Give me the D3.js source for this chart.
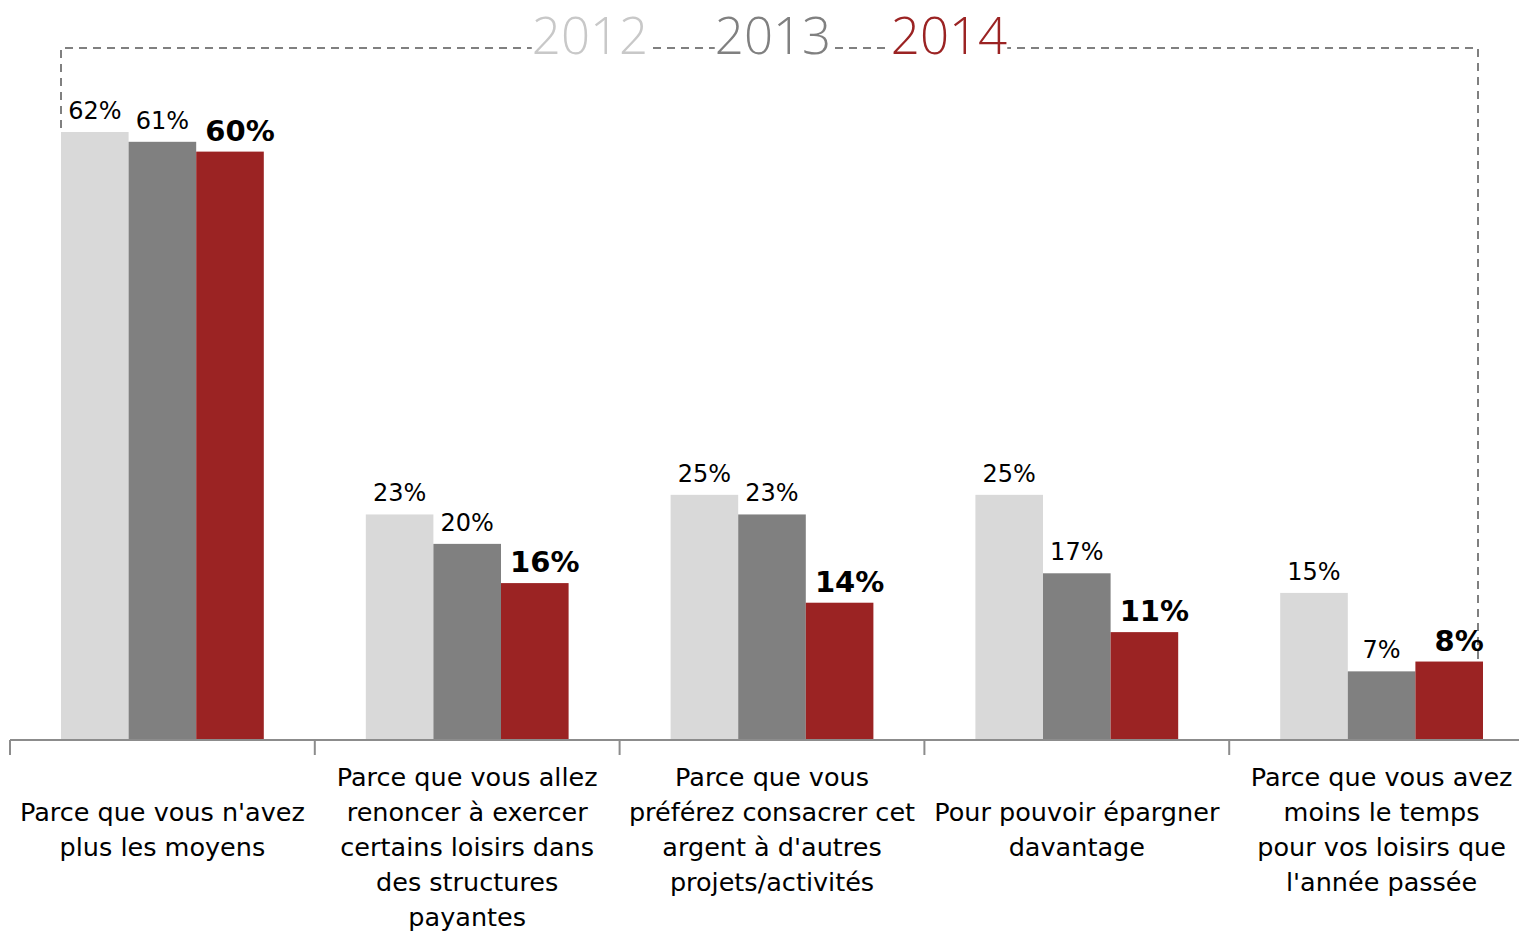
<!DOCTYPE html>
<html><head><meta charset="utf-8">
<script src="https://cdn.jsdelivr.net/npm/d3@7"></script>
<style>
html,body{margin:0;padding:0;background:#fff;overflow:hidden}
svg{display:block}
</style></head>
<body>
<svg id="chart" width="1519" height="932"></svg>
<script>
const categories = [
  ["Parce que vous n'avez", "plus les moyens"],
  ["Parce que vous allez", "renoncer à exercer", "certains loisirs dans", "des structures", "payantes"],
  ["Parce que vous", "préférez consacrer cet", "argent à d'autres", "projets/activités"],
  ["Pour pouvoir épargner", "davantage"],
  ["Parce que vous avez", "moins le temps", "pour vos loisirs que", "l'année passée"]
];
const seriesNames = ["2012", "2013", "2014"];
const values2012 = [62, 23, 25, 25, 15];
const values2013 = [61, 20, 23, 17, 7];
const values2014 = [60, 16, 14, 11, 8];
const barColors = ["#D9D9D9", "#808080", "#9B2323"];
const legendColors = ["#C8C8C8", "#808080", "#9B2323"];

const allValues = [values2012, values2013, values2014];
const svg = d3.select("#chart");
const catIdx = d3.range(categories.length);

const x0 = d3.scaleBand().domain(catIdx).range([10, 1534]).padding(0);
const x1 = d3.scaleBand().domain(seriesNames).range([51, x0.bandwidth() - 51]).padding(0);
const y = d3.scaleLinear().domain([0, 62]).range([740, 132]);

// dashed bracket box
const leftX = x0(0) + x1("2012");
const rightX = x0(4) + x1("2014") + x1.bandwidth() - 5;
const topY = 48;
svg.append("path")
  .attr("d", `M${leftX},${y(values2012[0]) - 4}V${topY}H${rightX}V${y(values2014[4]) - 2}`)
  .attr("fill", "none").attr("stroke", "#808080").attr("stroke-width", 2)
  .attr("stroke-dasharray", "8,6");

// legend
const legendCenters = [590, 773, 949];
seriesNames.forEach((s, i) => {
  const g = svg.append("g");
  const t = g.append("text")
    .attr("x", legendCenters[i]).attr("y", 54)
    .attr("text-anchor", "middle")
    .attr("font-family", "'Open Sans', sans-serif")
    .attr("font-weight", 300)
    .attr("font-size", 51)
    .attr("fill", legendColors[i])
    .text(s);
  const bb = t.node().getBBox();
  g.insert("rect", "text").attr("x", bb.x).attr("y", bb.y).attr("width", bb.width).attr("height", bb.height).attr("fill", "#fff");
});

// bars
const groups = svg.selectAll("g.cat").data(catIdx).join("g")
  .attr("class", "cat").attr("transform", d => `translate(${x0(d)},0)`);
groups.selectAll("rect").data(c => seriesNames.map((s, i) => ({s, i, v: allValues[i][c]}))).join("rect")
  .attr("x", d => x1(d.s)).attr("width", x1.bandwidth())
  .attr("y", d => y(d.v)).attr("height", d => y(0) - y(d.v))
  .attr("fill", d => barColors[d.i]);

// value labels
groups.selectAll("text.val").data(c => seriesNames.map((s, i) => ({s, i, v: allValues[i][c]}))).join("text")
  .attr("class", "val")
  .attr("x", d => x1(d.s) + x1.bandwidth() / 2 + (d.i === 2 ? 10 : 0))
  .attr("y", d => y(d.v) - (d.i === 2 ? 11 : 13))
  .attr("text-anchor", "middle")
  .attr("font-family", "'DejaVu Sans', sans-serif")
  .attr("font-size", d => d.i === 2 ? 29 : 24)
  .attr("font-weight", d => d.i === 2 ? "bold" : "normal")
  .attr("fill", "#000")
  .text(d => d.v + "%");

// axis
const axis = d3.axisBottom(x0).tickSize(0).tickFormat("");
const axG = svg.append("g").attr("transform", `translate(0,${y(0)})`).call(axis);
axG.select(".domain").attr("stroke", "#8c8c8c").attr("stroke-width", 2).attr("d", `M10,0H1519`);
svg.append("g").selectAll("line").data(catIdx).join("line")
  .attr("x1", d => x0(d)).attr("x2", d => x0(d))
  .attr("y1", y(0)).attr("y2", y(0) + 15)
  .attr("stroke", "#8c8c8c").attr("stroke-width", 2);

// category labels
categories.forEach((lines, c) => {
  const n = lines.length;
  const startC = Math.max(777, 829.5 - (n - 1) * 17.5);
  const t = svg.append("text")
    .attr("text-anchor", "middle")
    .attr("font-family", "'DejaVu Sans', sans-serif")
    .attr("font-size", 25.5)
    .attr("fill", "#000");
  lines.forEach((ln, k) => {
    t.append("tspan").attr("x", x0(c) + x0.bandwidth() / 2)
      .attr("y", startC + k * 35 + 9).text(ln);
  });
});
</script>
</body></html>
